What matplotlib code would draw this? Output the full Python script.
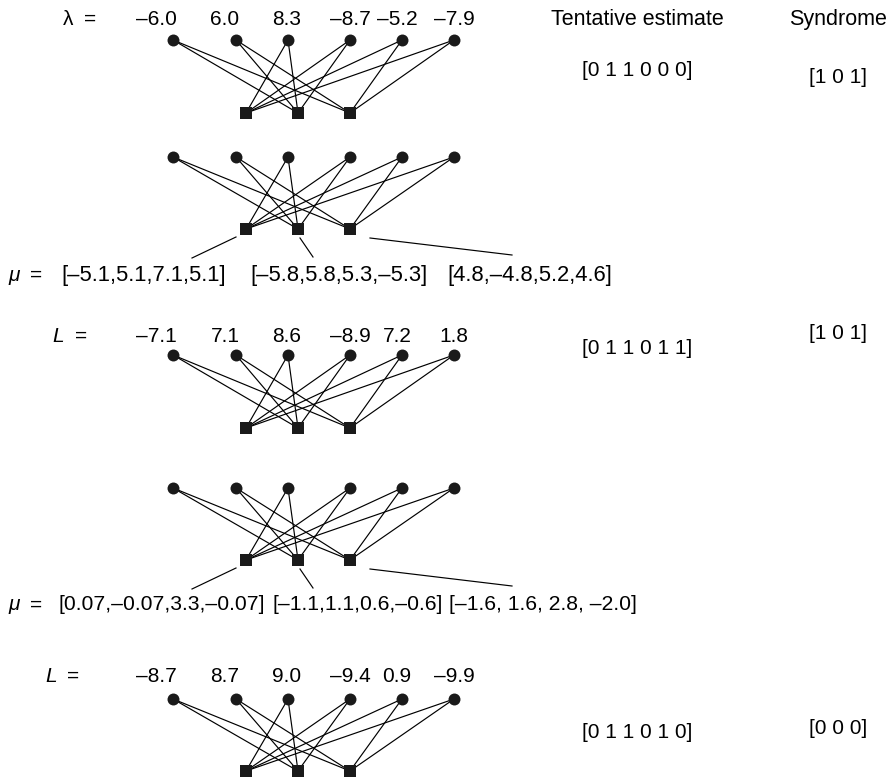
import matplotlib.pyplot as plt

plt.rcParams['font.family'] = ['Liberation Sans', 'DejaVu Sans']

# parity check matrix (rows = check nodes, cols = variable nodes)
H = [[0, 0, 1, 1, 1, 1],
     [1, 1, 1, 1, 0, 0],
     [1, 1, 0, 0, 1, 1]]

lam = [-6.0, 6.0, 8.3, -8.7, -5.2, -7.9]
mu1 = [[-5.1, 5.1, 7.1, 5.1], [-5.8, 5.8, 5.3, -5.3], [4.8, -4.8, 5.2, 4.6]]
L1 = [-7.1, 7.1, 8.6, -8.9, 7.2, 1.8]
mu2 = [[0.07, -0.07, 3.3, -0.07], [-1.1, 1.1, 0.6, -0.6], [-1.6, 1.6, 2.8, -2.0]]
L2 = [-8.7, 8.7, 9.0, -9.4, 0.9, -9.9]
estimates = [[0, 1, 1, 0, 0, 0], [0, 1, 1, 0, 1, 1], [0, 1, 1, 0, 1, 0]]
syndromes = [[1, 0, 1], [1, 0, 1], [0, 0, 0]]

var_x = [173, 236, 288, 350, 402, 454]
chk_x = [246, 298, 350]
lab_dx = [-17, -11, -1, 0, -5, 0]
EST_X, SYN_X = 637, 838


def fmt(v):
    s = '–' if v < 0 else ''
    a = abs(v)
    return s + (f'{a:.2f}' if a < 0.1 else f'{a:.1f}')


fig = plt.figure(figsize=(8.92, 7.78), dpi=100)
ax = fig.add_axes([0, 0, 1, 1])
ax.set_xlim(0, 892)
ax.set_ylim(778, 0)
ax.axis('off')

FS = 15


def txt(x, y, s, ha='left', fs=FS, **kw):
    ax.text(x, y, s, ha=ha, va='center', fontsize=fs, **kw)


def graph(y0, y1):
    for c, row in enumerate(H):
        for v, h in enumerate(row):
            if h:
                ax.plot([var_x[v], chk_x[c]], [y0, y1], color='black', lw=0.85, zorder=1)
    ax.scatter(var_x, [y0] * 6, s=74, color='#1a1a1a', lw=0, zorder=3)
    ax.scatter(chk_x, [y1] * 3, s=64, marker='s', color='#1a1a1a', lw=0, zorder=3)


def values(vals, y):
    for x, dx, v in zip(var_x, lab_dx, vals):
        txt(x + dx, y, fmt(v), ha='center')


def pointers(yc):
    ax.plot([236, 192], [yc + 8, yc + 29], color='black', lw=0.85)
    ax.plot([300, 313], [yc + 9, yc + 28], color='black', lw=0.85)
    ax.plot([370, 512], [yc + 9, yc + 26], color='black', lw=0.85)


def msgs(mu, y, xs, seps, fs):
    txt(8, y, 'μ', style='italic')
    txt(30, y, '=')
    for m, x, sep in zip(mu, xs, seps):
        txt(x, y, '[' + sep.join(fmt(v) for v in m) + ']', fs=fs)


def bits(b):
    return '[' + ' '.join(str(i) for i in b) + ']'


# header
txt(63, 19, 'λ')
txt(84, 19, '=')
txt(EST_X, 19, 'Tentative estimate', ha='center', fs=15.5)
txt(SYN_X, 19, 'Syndrome', ha='center', fs=15.5)

# iteration 0
values(lam, 19)
graph(40, 113)
txt(EST_X, 70, bits(estimates[0]), ha='center')
txt(SYN_X, 77, bits(syndromes[0]), ha='center')

# check node messages 1
graph(157, 229)
pointers(229)
msgs(mu1, 275, [61, 250, 447], [',', ',', ','], 15.8)

# iteration 1
txt(52, 336, 'L', style='italic')
txt(75, 336, '=')
values(L1, 336)
graph(355, 428)
txt(EST_X, 348, bits(estimates[1]), ha='center')
txt(SYN_X, 333, bits(syndromes[1]), ha='center')

# check node messages 2
graph(488, 560)
pointers(560)
msgs(mu2, 605, [58, 272, 449], [',', ',', ', '], 15.2)

# iteration 2
txt(45, 676, 'L', style='italic')
txt(67, 676, '=')
values(L2, 676)
graph(699, 771)
txt(EST_X, 733, bits(estimates[2]), ha='center')
txt(SYN_X, 728, bits(syndromes[2]), ha='center')

fig.savefig('out.png', dpi=100, facecolor='white')
